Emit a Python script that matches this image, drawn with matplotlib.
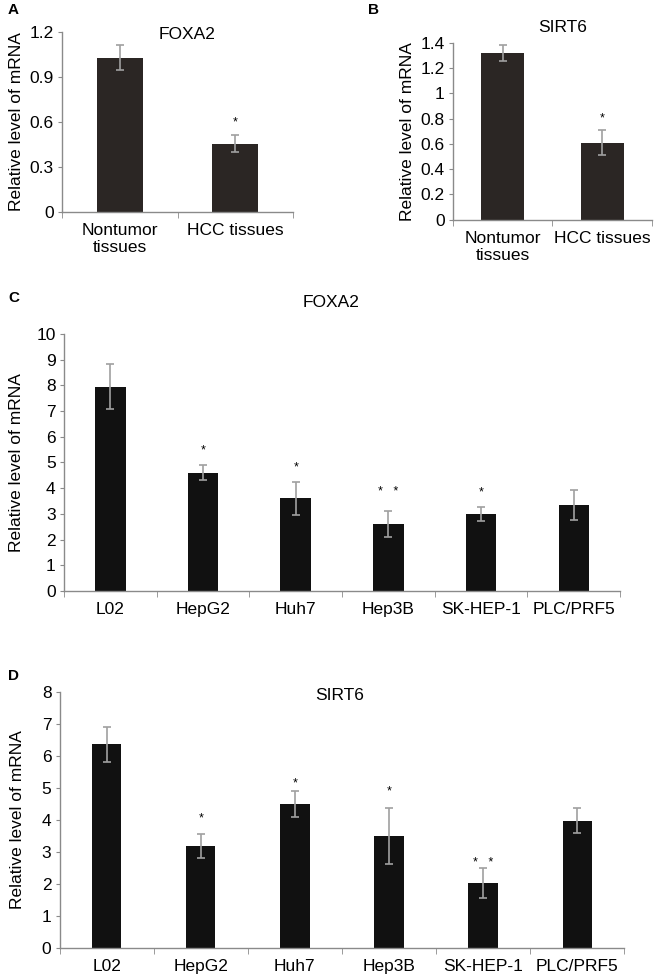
import matplotlib.pyplot as plt
import numpy as np

# panel A / B: tissues
tissues = ['Nontumor\ntissues', 'HCC tissues']
foxa2_tissue = [1.03, 0.455]
foxa2_tissue_err = [0.085, 0.055]
sirt6_tissue = [1.32, 0.61]
sirt6_tissue_err = [0.06, 0.10]

# panel C / D: cell lines
cells = ['L02', 'HepG2', 'Huh7', 'Hep3B', 'SK-HEP-1', 'PLC/PRF5']
foxa2_cell = [7.95, 4.6, 3.6, 2.6, 3.0, 3.33]
foxa2_cell_err = [0.88, 0.28, 0.65, 0.52, 0.27, 0.58]
foxa2_marks = ['', '*', '*', '*   *', '*', '']
foxa2_mark_y = [0, 5.45, 4.8, 3.85, 3.85, 0]
sirt6_cell = [6.37, 3.18, 4.5, 3.5, 2.03, 3.98]
sirt6_cell_err = [0.55, 0.37, 0.42, 0.87, 0.48, 0.38]
sirt6_marks = ['', '*', '*', '*', '*   *', '']
sirt6_mark_y = [0, 4.05, 5.15, 4.9, 2.65, 0]

plt.rcParams['font.family'] = ['Liberation Sans', 'DejaVu Sans']

fig = plt.figure(figsize=(6.64, 9.76), dpi=100)


def style(ax, fs):
    for s in ['top', 'right']:
        ax.spines[s].set_visible(False)
    for s in ['left', 'bottom']:
        ax.spines[s].set_color('#8a8a8a')
        ax.spines[s].set_linewidth(1.0)
    ax.tick_params(axis='y', direction='out', length=3, color='#8a8a8a', labelsize=fs, pad=3)
    ax.tick_params(axis='x', which='major', length=0, labelsize=fs, pad=8)
    ax.tick_params(axis='x', which='minor', direction='out', length=4, color='#8a8a8a')


def panel(rect, labels, vals, errs, width, color, ymax, yticks, yticklabels,
          title, title_xy, fs, marks=None, mark_y=None):
    ax = fig.add_axes(rect)
    x = np.arange(len(labels))
    ax.bar(x, vals, width=width, color=color, yerr=errs,
           error_kw=dict(ecolor='#a0a0a0', elinewidth=1.2, capsize=3, capthick=1.2))
    ax.set_xlim(-0.5, len(labels) - 0.5)
    ax.set_ylim(0, ymax)
    ax.set_yticks(yticks)
    ax.set_yticklabels(yticklabels)
    ax.set_xticks(x)
    ax.set_xticklabels(labels, linespacing=1.2)
    ax.set_xticks(np.arange(len(labels) + 1) - 0.5, minor=True)
    ax.set_ylabel('Relative level of mRNA', fontsize=fs, labelpad=3)
    ax.text(title_xy[0], title_xy[1], title, transform=ax.transAxes,
            ha='center', va='center', fontsize=fs)
    if marks is not None:
        for xi, m, my in zip(x, marks, mark_y):
            if m:
                ax.text(xi, my, m, ha='center', va='center', fontsize=9)
    style(ax, fs)
    return ax


axA = panel([0.0934, 0.783, 0.348, 0.184], tissues, foxa2_tissue, foxa2_tissue_err,
            0.4, '#2b2624', 1.2, [0, 0.3, 0.6, 0.9, 1.2], ['0', '0.3', '0.6', '0.9', '1.2'],
            'FOXA2', (0.54, 0.99), 12.5,
            marks=['', '*'], mark_y=[0, 0.6])
axB = panel([0.682, 0.775, 0.30, 0.181], tissues, sirt6_tissue, sirt6_tissue_err,
            0.43, '#2b2624', 1.4, [0, 0.2, 0.4, 0.6, 0.8, 1, 1.2, 1.4],
            ['0', '0.2', '0.4', '0.6', '0.8', '1', '1.2', '1.4'],
            'SIRT6', (0.55, 1.09), 12.5,
            marks=['', '*'], mark_y=[0, 0.8])
axA.yaxis.labelpad = 4
axB.yaxis.labelpad = 4

axC = panel([0.0964, 0.3945, 0.8376, 0.2635], cells, foxa2_cell, foxa2_cell_err,
            0.33, '#111111', 10, range(0, 11), [str(i) for i in range(0, 11)],
            'FOXA2', (0.48, 1.12), 12.5,
            marks=foxa2_marks, mark_y=foxa2_mark_y)
axD = panel([0.090, 0.0287, 0.850, 0.2623], cells, sirt6_cell, sirt6_cell_err,
            0.31, '#111111', 8, range(0, 9), [str(i) for i in range(0, 9)],
            'SIRT6', (0.495, 0.985), 12.5,
            marks=sirt6_marks, mark_y=sirt6_mark_y)
axC.yaxis.labelpad = 9
axD.yaxis.labelpad = 12

for letter, px, py in [('A', 8, 10), ('B', 368, 10), ('C', 8, 298), ('D', 8, 676)]:
    fig.text(px / 664, 1 - py / 976, letter, fontsize=11, fontweight='bold',
             ha='left', va='center')

fig.savefig('out.png', dpi=100, facecolor='white')
